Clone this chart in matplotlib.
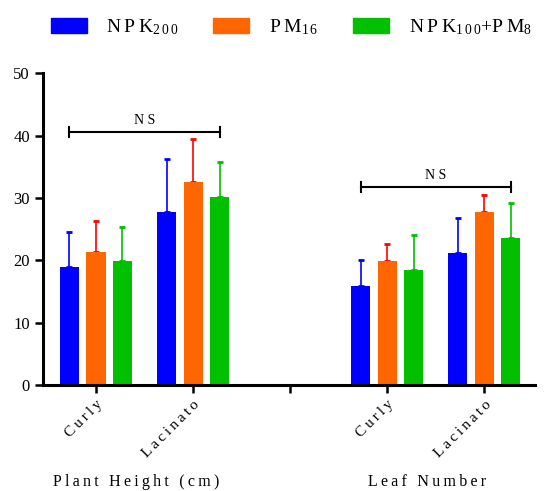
import matplotlib
matplotlib.use('Agg')
import matplotlib.pyplot as plt
from matplotlib.patches import Patch
import numpy as np

matplotlib.rcParams.update({'font.family': ['Liberation Serif', 'DejaVu Serif'], 'mathtext.fontset': 'custom',
                            'mathtext.rm': 'Liberation Serif', 'mathtext.it': 'Liberation Serif'})

groups = ['Curly', 'Lacinato', '', 'Curly', 'Lacinato']
series = ['N\u2009P\u2009K$_{2\\,0\\,0}$', 'P\u2009M$_{1\\,6}$',
          'N\u2009P\u2009K$_{1\\,0\\,0}$+P\u2009M$_{8}$']
npk200 = [18.9, 27.7, None, 15.9, 21.2]
npk200_err = [5.6, 8.5, None, 4.1, 5.6]
pm16 = [21.4, 32.5, None, 19.8, 27.7]
pm16_err = [4.9, 7.0, None, 2.8, 2.8]
mix = [19.8, 30.1, None, 18.5, 23.6]
mix_err = [5.6, 5.6, None, 5.6, 5.6]
ns_bars = [(0, 1, 40.6), (3, 4, 31.8)]
section_labels = ['Plant Height (cm)', 'Leaf Number']

bar_colors = ['#0000ff', '#ff6600', '#00c000']
err_colors = ['#0000ff', '#ff0000', '#00c000']


def spaced(s):
    # letter-spaced look of the original
    return '\u2009'.join(s)


fig = plt.figure(figsize=(5.47, 4.91), dpi=100)
ax = fig.add_axes([0.0786, 0.216, 0.899, 0.635])

x = np.arange(len(groups))
w = 0.196
off = 0.273
for i, (vals, errs) in enumerate([(npk200, npk200_err), (pm16, pm16_err), (mix, mix_err)]):
    xs = [xx + (i - 1) * off for xx, v in zip(x, vals) if v is not None]
    vs = [v for v in vals if v is not None]
    es = [e for e in errs if e is not None]
    ax.bar(xs, vs, width=w, color=bar_colors[i], zorder=2)
    ax.errorbar(xs, vs, yerr=[np.zeros(len(es)), es], fmt='none', ecolor=err_colors[i],
                elinewidth=1.2, capsize=2, capthick=2, zorder=1)

for a, b, y in ns_bars:
    x0, x1 = a - off, b + off
    ax.plot([x0, x1], [y, y], color='black', lw=1.5)
    ax.plot([x0, x0], [y - 0.8, y + 0.8], color='black', lw=1.5)
    ax.plot([x1, x1], [y - 0.8, y + 0.8], color='black', lw=1.5)
    ax.text((x0 + x1) / 2, y + 0.7, 'N S', ha='center', va='bottom', fontsize=10)

ax.set_xlim(-0.546, 4.52)
ax.set_ylim(0, 50)
ax.set_yticks([0, 10, 20, 30, 40, 50])
ax.set_xticks(x)
ax.set_xticklabels([spaced(g) for g in groups], rotation=45, ha='right', rotation_mode='anchor', fontsize=11)
ax.tick_params(axis='both', width=1.8, length=6, labelsize=12)
ax.tick_params(axis='x', labelsize=11)
for s in ['top', 'right']:
    ax.spines[s].set_visible(False)
for s in ['left', 'bottom']:
    ax.spines[s].set_linewidth(2.2)

ax.text(0.41, -0.31, spaced(section_labels[0]), transform=ax.get_xaxis_transform(), ha='center',
        va='center', fontsize=11.5)
ax.text(3.41, -0.31, spaced(section_labels[1]), transform=ax.get_xaxis_transform(), ha='center',
        va='center', fontsize=11.5)

handles = [Patch(color=c) for c in bar_colors]
fig.legend(handles, series, loc='upper center', bbox_to_anchor=(0.532, 1.0), ncol=3,
           frameon=False, fontsize=14, handlelength=1.85, handleheight=0.8,
           handletextpad=1.0, columnspacing=1.8)

fig.savefig('out.png', dpi=100)
